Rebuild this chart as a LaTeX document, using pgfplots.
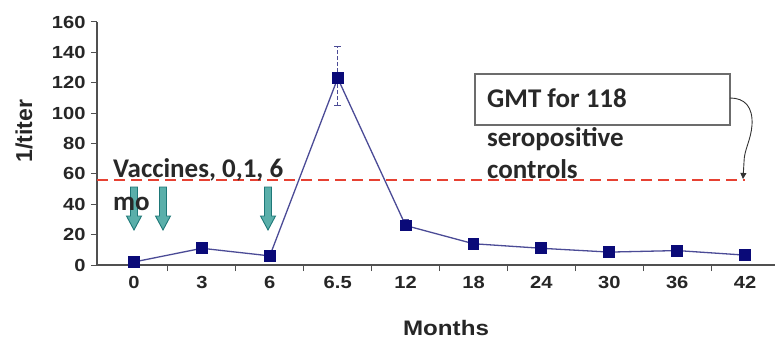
\documentclass[border=0pt]{standalone}
\usepackage{pgfplots}
\pgfplotsset{compat=1.18}
\usepackage{fontspec}
\setmainfont{Liberation Sans}
\newfontfamily\chartfont{Liberation Sans}[FakeStretch=1.15]
\newfontfamily\annfont{Carlito}
\usetikzlibrary{arrows.meta}
\definecolor{linecol}{RGB}{75,75,150}
\definecolor{markcol}{RGB}{10,10,120}
\definecolor{dashred}{RGB}{230,65,50}
\definecolor{arrteal}{RGB}{30,120,120}
\definecolor{arrfill}{RGB}{90,175,170}
\definecolor{axcol}{RGB}{80,80,80}
\definecolor{anntext}{RGB}{40,40,40}
\newcommand{\blockarrow}[1]{%
  \draw[draw=arrteal, fill=arrfill, line width=0.9pt, line join=miter]
    (#1,78) -- ++(-3.5,0) -- ++(0,-29) -- ++(-4,0) -- ++(7.5,-14) -- ++(7.5,14) -- ++(-4,0) -- ++(0,29) -- cycle;}
\begin{document}
\begin{tikzpicture}[x=1pt,y=1pt]
\begin{axis}[
  at={(0,0)}, anchor=south west, scale only axis,
  width=678pt, height=243pt,
  xmin=-0.545, xmax=9.44, ymin=0, ymax=160,
  axis x line=bottom, axis y line=left,
  axis line style={-, draw=axcol, line width=1.6pt},
  ytick={0,20,...,160},
  xtick={0,...,9},
  xticklabels={0,3,6,6.5,12,18,24,30,36,42},
  major x tick style={draw=none},
  minor xtick={0.5,1.5,...,8.5},
  minor x tick style={draw=axcol, line width=1pt},
  major y tick style={draw=axcol, line width=1pt},
  tick align=outside,
  major tick length=6pt, minor tick length=6pt,
  /pgf/number format/assume math mode=true,
  tick label style={font=\chartfont\bfseries\fontsize{17.5}{17.5}\selectfont, text=black!85},
  yticklabel style={anchor=east, xshift=-2pt},
  xticklabel style={yshift=-2pt},
  clip=false,
]
\addplot[dashred, line width=2.4pt, dash pattern=on 11pt off 6pt] coordinates {(-0.545,56) (9,56)};
\addplot[linecol, line width=1.3pt, mark=square*, mark size=5.3pt,
  mark options={solid, fill=markcol, draw=markcol},
  error bars/.cd, y dir=both, y explicit,
  error bar style={draw=linecol, line width=0.9pt, dash pattern=on 4pt off 2pt},
  error mark options={rotate=90, mark size=3.5pt, draw=linecol, line width=0.9pt, solid}]
  coordinates {
  (0,2) (1,11) (2,6) (3,123) += (0,21) -= (0,18) (4,26) += (0,4) -= (0,3)
  (5,14) (6,11) (7,8.5) (8,9.5) (9,6.5)};
\end{axis}
% vaccine arrows
\blockarrow{37}
\blockarrow{66}
\blockarrow{171}
% annotation texts
\node[anchor=base west, inner sep=0pt, text=anntext, font=\annfont\bfseries\fontsize{27}{27}\selectfont] at (16,88) {Vaccines, 0,1, 6};
\node[anchor=base west, inner sep=0pt, text=anntext, font=\annfont\bfseries\fontsize{27}{27}\selectfont] at (16,55) {mo};
\draw[draw=gray!85!black, line width=1.4pt, fill=white] (378,140) rectangle (633,191);
\node[anchor=base west, inner sep=0pt, text=anntext, font=\annfont\bfseries\fontsize{27}{27}\selectfont] at (390,157) {GMT for 118};
\node[anchor=base west, inner sep=0pt, text=anntext, font=\annfont\bfseries\fontsize{27}{27}\selectfont] at (390,118) {seropositive};
\node[anchor=base west, inner sep=0pt, text=anntext, font=\annfont\bfseries\fontsize{27}{27}\selectfont] at (390,87) {controls};
\draw[black!80, line width=0.9pt, -{Triangle[width=6pt,length=6pt]}] (633,167) .. controls (648,167) and (656,158) .. (655,140) .. controls (654,125) and (647,115) .. (647,103) -- (646,86);
% axis labels
\node[rotate=90, font=\bfseries\fontsize{23}{23}\selectfont, text=black!85] at (-73,134) {1/titer};
\node[anchor=base, font=\chartfont\bfseries\fontsize{21}{21}\selectfont, text=black!85] at (349,-70) {Months};
\pgfresetboundingbox
\path[use as bounding box] (-97,-75) rectangle (678,265);
\end{tikzpicture}
\end{document}
